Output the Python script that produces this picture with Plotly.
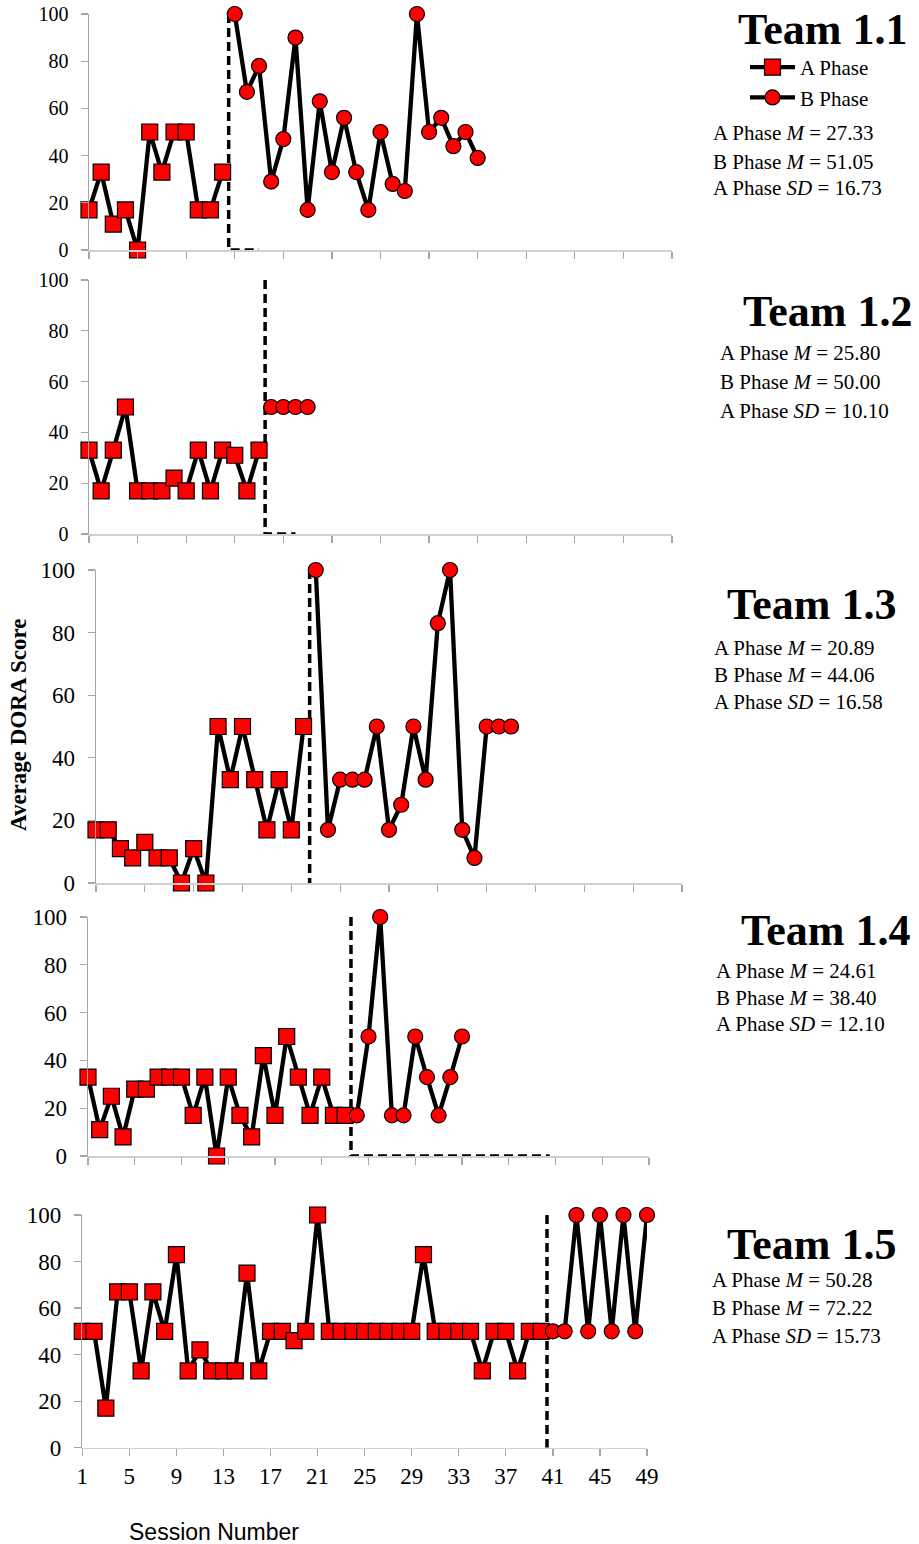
import plotly.graph_objects as go

# ---------------- data ----------------
team_names = ["Team 1.1", "Team 1.2", "Team 1.3", "Team 1.4", "Team 1.5"]

a_phase_1 = [17, 33, 11, 17, 0, 50, 33, 50, 50, 17, 17, 33]
b_phase_1 = [100, 67, 78, 29, 47, 90, 17, 63, 33, 56, 33, 17, 50, 28, 25, 100, 50, 56, 44, 50, 39]

a_phase_2 = [33, 17, 33, 50, 17, 17, 17, 22, 17, 33, 17, 33, 31, 17, 33]
b_phase_2 = [50, 50, 50, 50]

a_phase_3 = [17, 17, 11, 8, 13, 8, 8, 0, 11, 0, 50, 33, 50, 33, 17, 33, 17, 50]
b_phase_3 = [100, 17, 33, 33, 33, 50, 17, 25, 50, 33, 83, 100, 17, 8, 50, 50, 50]

a_phase_4 = [33, 11, 25, 8, 28, 28, 33, 33, 33, 17, 33, 0, 33, 17, 8, 42, 17, 50, 33, 17, 33, 17, 17]
b_phase_4 = [17, 50, 100, 17, 17, 50, 33, 17, 33, 50]

a_phase_5 = [50, 50, 17, 67, 67, 33, 67, 50, 83, 33, 42, 33, 33, 33, 75, 33, 50, 50, 46, 50,
             100, 50, 50, 50, 50, 50, 50, 50, 50, 83, 50, 50, 50, 50, 33, 50, 50, 33, 50, 50]
b_phase_5 = [50, 50, 100, 50, 100, 50, 100, 50, 100]

# phase-change line (session between phases) and end of its dashed baseline tail
phase_change = [12.5, 15.5, 18.5, 23.5, 40.5]
tail_end = [15, 18, None, 40.5, None]

a_mean = ["27.33", "25.80", "20.89", "24.61", "50.28"]
b_mean = ["51.05", "50.00", "44.06", "38.40", "72.22"]
a_sd = ["16.73", "10.10", "16.58", "12.10", "15.73"]

y_ticks = [0, 20, 40, 60, 80, 100]
x_ticks = list(range(1, 50, 4))
x_range = [1, 49]

a_phases = [a_phase_1, a_phase_2, a_phase_3, a_phase_4, a_phase_5]
b_phases = [b_phase_1, b_phase_2, b_phase_3, b_phase_4, b_phase_5]

# ---------------- layout geometry (pixels) ----------------
W, H = 919, 1544
# (x_left, x_right, y_top(100), y_bottom(0))
panels = [
    (89, 672, 14, 250),
    (89, 672, 280, 534),
    (96, 682, 570, 883),
    (88, 649, 917, 1156),
    (82.3, 647, 1215, 1447.7),
]
ytick_size = [20, 20, 23, 23, 23]
# title centre (x, y) and stats left x and line centre ys
title_pos = [(823, 30), (828, 311), (812, 604), (826, 930), (812, 1244)]
stats_pos = [
    (711, [133, 161.5, 188.5]),
    (718, [353, 382, 411]),
    (712, [648, 675, 702]),
    (714, [971, 998, 1024]),
    (710, [1280, 1308, 1336]),
]


def px_x(v):
    return v / W


def px_y(v):
    return 1 - v / H


SERIF = "Liberation Serif"
fig = go.Figure()
layout = dict(
    width=W, height=H,
    margin=dict(l=0, r=0, t=0, b=0, pad=0, autoexpand=False),
    paper_bgcolor="white", plot_bgcolor="white",
    showlegend=True,
    legend=dict(
        x=px_x(745), y=px_y(47), xanchor="left", yanchor="top",
        font=dict(family=SERIF, size=21, color="black"),
        bgcolor="rgba(0,0,0,0)", borderwidth=0, tracegroupgap=0,
        itemwidth=45,
    ),
)

annotations = []
for i in range(5):
    xl, xr, yt, yb = panels[i]
    suf = "" if i == 0 else str(i + 1)
    xa, ya = "x" + suf, "y" + suf
    layout["xaxis" + suf] = dict(
        domain=[px_x(xl), px_x(xr)], range=x_range, anchor=ya,
        tickmode="array", tickvals=x_ticks, ticktext=[str(t) for t in x_ticks],
        showticklabels=(i == 4), ticks="outside", ticklen=7, tickwidth=1.3,
        tickcolor="#a6a6a6", showline=True, linecolor="#d0d0d0", linewidth=1.5,
        showgrid=False, zeroline=False, automargin=False,
        tickfont=dict(family=SERIF, size=23, color="black"),
        ticklabelstandoff=0,
    )
    layout["yaxis" + suf] = dict(
        domain=[px_y(yb), px_y(yt)], range=[0, 100], anchor=xa,
        tickmode="array", tickvals=y_ticks,
        ticks="outside", ticklen=7, tickwidth=1.3, tickcolor="#a6a6a6",
        showline=True, linecolor="#a6a6a6", linewidth=1.5,
        showgrid=False, zeroline=False, automargin=False,
        tickfont=dict(family=SERIF, size=ytick_size[i], color="black"),
        ticklabelstandoff=8,
    )

    a = a_phases[i]
    b = b_phases[i]
    a_x = list(range(1, len(a) + 1))
    b_x = list(range(len(a) + 1, len(a) + len(b) + 1))

    # phase change dashed line
    pc = phase_change[i]
    lx, ly = [pc, pc], [100, 0]
    if tail_end[i] is not None:
        lx.append(tail_end[i])
        ly.append(0)
    fig.add_trace(go.Scatter(
        x=lx, y=ly, mode="lines", xaxis=xa, yaxis=ya, showlegend=False,
        line=dict(color="black", width=3.5, dash="9px,5px"), cliponaxis=False,
        hoverinfo="skip",
    ))

    fig.add_trace(go.Scatter(
        x=a_x, y=a, mode="lines+markers", name="A Phase", xaxis=xa, yaxis=ya,
        showlegend=(i == 0), legendrank=1,
        line=dict(color="black", width=4.3),
        marker=dict(symbol="square", size=16, color="#ff0000",
                    line=dict(color="black", width=1.2)),
        cliponaxis=False,
    ))
    fig.add_trace(go.Scatter(
        x=b_x, y=b, mode="lines+markers", name="B Phase", xaxis=xa, yaxis=ya,
        showlegend=(i == 0), legendrank=2,
        line=dict(color="black", width=4.3),
        marker=dict(symbol="circle", size=15, color="#ff0000",
                    line=dict(color="black", width=1.2)),
        cliponaxis=False,
    ))

    tx, ty = title_pos[i]
    annotations.append(dict(
        text="<b>" + team_names[i] + "</b>", x=px_x(tx), y=px_y(ty),
        xref="paper", yref="paper", xanchor="center", yanchor="middle",
        showarrow=False, font=dict(family=SERIF, size=44, color="black"),
    ))
    sx, sys_ = stats_pos[i]
    lines = [
        "A Phase <i>M</i> = " + a_mean[i],
        "B Phase <i>M</i> = " + b_mean[i],
        "A Phase <i>SD</i> = " + a_sd[i],
    ]
    for txt, yy in zip(lines, sys_):
        annotations.append(dict(
            text=txt, x=px_x(sx), y=px_y(yy), xref="paper", yref="paper",
            xanchor="left", yanchor="middle", showarrow=False,
            font=dict(family=SERIF, size=21, color="black"),
        ))

annotations.append(dict(
    text="<b>Average DORA Score</b>", x=px_x(18), y=px_y(725), xref="paper", yref="paper",
    xanchor="center", yanchor="middle", showarrow=False, textangle=-90,
    font=dict(family=SERIF, size=23, color="black"),
))
annotations.append(dict(
    text="Session Number", x=px_x(214), y=px_y(1532), xref="paper", yref="paper",
    xanchor="center", yanchor="middle", showarrow=False,
    font=dict(family="Liberation Sans", size=23, color="black"),
))
layout["annotations"] = annotations
fig.update_layout(**layout)
fig.write_html(
    "out.html",
    config={"displayModeBar": False, "staticPlot": True},
    post_script=(
        "document.body.style.margin='0';"
        "document.body.style.padding='0';"
        "document.body.style.overflow='hidden';"
        "document.documentElement.style.overflow='hidden';"
    ),
)
